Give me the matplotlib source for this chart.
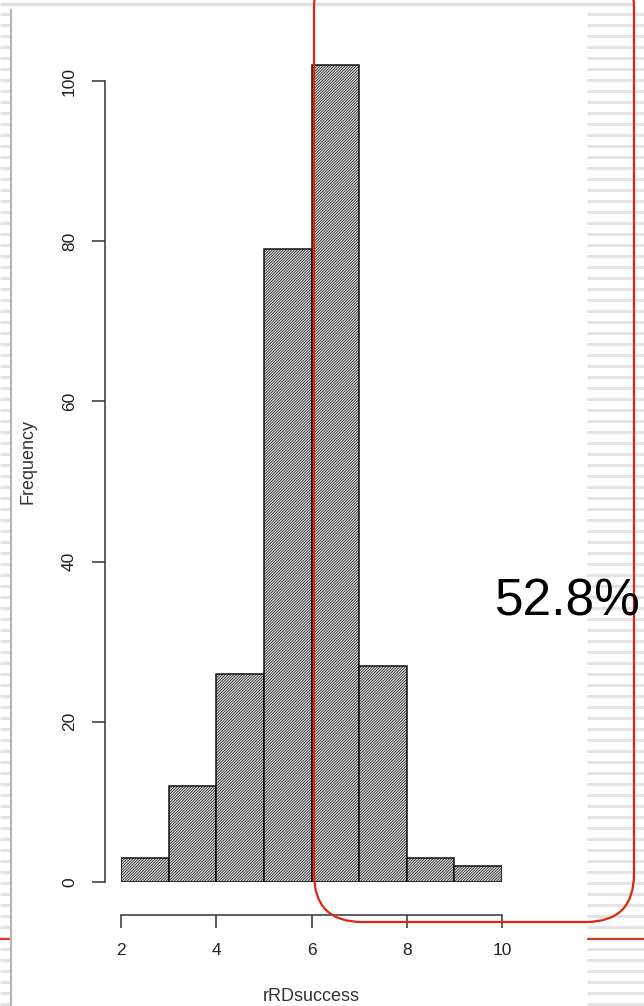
import matplotlib
matplotlib.use("Agg")
import matplotlib.pyplot as plt
from matplotlib.patches import FancyBboxPatch
import numpy as np

plt.rcParams['font.family'] = ['Liberation Sans', 'DejaVu Sans']
plt.rcParams['hatch.linewidth'] = 0.45

# Histogram of rRDsuccess
bin_edges = [2, 3, 4, 5, 6, 7, 8, 9, 10]
counts = [3, 12, 26, 79, 102, 27, 3, 2]
x_ticks = [2, 4, 6, 8, 10]
y_ticks = [0, 20, 40, 60, 80, 100]
share_label = "52.8%"

W, H = 644, 1006
PX = 72 / 100  # points per pixel at 100 dpi
fig = plt.figure(figsize=(W / 100, H / 100), dpi=100)

# Slide background: striped margins and thin rules
bg = fig.add_axes([0, 0, 1, 1], zorder=0)
bg.set_xlim(0, W)
bg.set_ylim(H, 0)
bg.axis('off')
for yy in range(14, H, 11):
    bg.plot([0, 10], [yy, yy], color='#e3e3e3', lw=2.2, solid_capstyle='butt')
    bg.plot([587, W], [yy, yy], color='#e3e3e3', lw=2.2, solid_capstyle='butt')
bg.plot([0, 634], [4, 4], color='#e0e0e0', lw=2.4, solid_capstyle='butt')
bg.plot([11, 11], [9, H], color='#b4b4b4', lw=1.5, solid_capstyle='butt')

# Main histogram axes
y_top = 105
ax = fig.add_axes([121 / W, (H - 882) / H, (502 - 121) / W,
                   (y_top * 8.01) / H], zorder=1)
ax.patch.set_alpha(0)
widths = np.diff(bin_edges)
ax.bar(bin_edges[:-1], counts, width=widths, align='edge',
       facecolor='#d2d2d2', edgecolor='#111111', linewidth=1.1,
       hatch='/' * 12)
ax.set_xlim(2, 10)
ax.set_ylim(0, y_top)
for s in ['top', 'right']:
    ax.spines[s].set_visible(False)
ax.spines['left'].set_position(('outward', 16 * PX))
ax.spines['bottom'].set_position(('outward', 33 * PX))
ax.spines['left'].set_bounds(0, 100)
ax.spines['bottom'].set_bounds(2, 10)
for s in ['left', 'bottom']:
    ax.spines[s].set_color('#333333')
    ax.spines[s].set_linewidth(1.1)
ax.set_xticks(x_ticks)
ax.set_yticks(y_ticks)
ax.tick_params(axis='both', length=13 * PX, width=1.1, color='#333333',
               labelsize=12.5, pad=15 * PX, labelcolor='#222222')
ax.tick_params(axis='y', labelrotation=90)
for lab in ax.get_yticklabels():
    lab.set_va('center')
ax.set_xlabel('rRDsuccess', fontsize=13, labelpad=30 * PX, color='#333333')
ax.set_ylabel('Frequency', fontsize=13, labelpad=26 * PX, color='#333333')

# Overlay: red callout box, red rules and percentage
ov = fig.add_axes([0, 0, 1, 1], zorder=2)
ov.set_xlim(0, W)
ov.set_ylim(H, 0)
ov.axis('off')
ov.add_patch(FancyBboxPatch((314, -40), 320, 962,
                            boxstyle='round,pad=0,rounding_size=48',
                            fill=False, edgecolor='#e0260f', lw=1.6))
ov.plot([0, 10], [938.5, 938.5], color='#e0260f', lw=1.3, solid_capstyle='butt')
ov.plot([587, W], [938.5, 938.5], color='#e0260f', lw=1.3, solid_capstyle='butt')
ov.text(495, 615, share_label, fontsize=37, ha='left', va='baseline',
        color='black')

fig.savefig('out.png', dpi=100)
